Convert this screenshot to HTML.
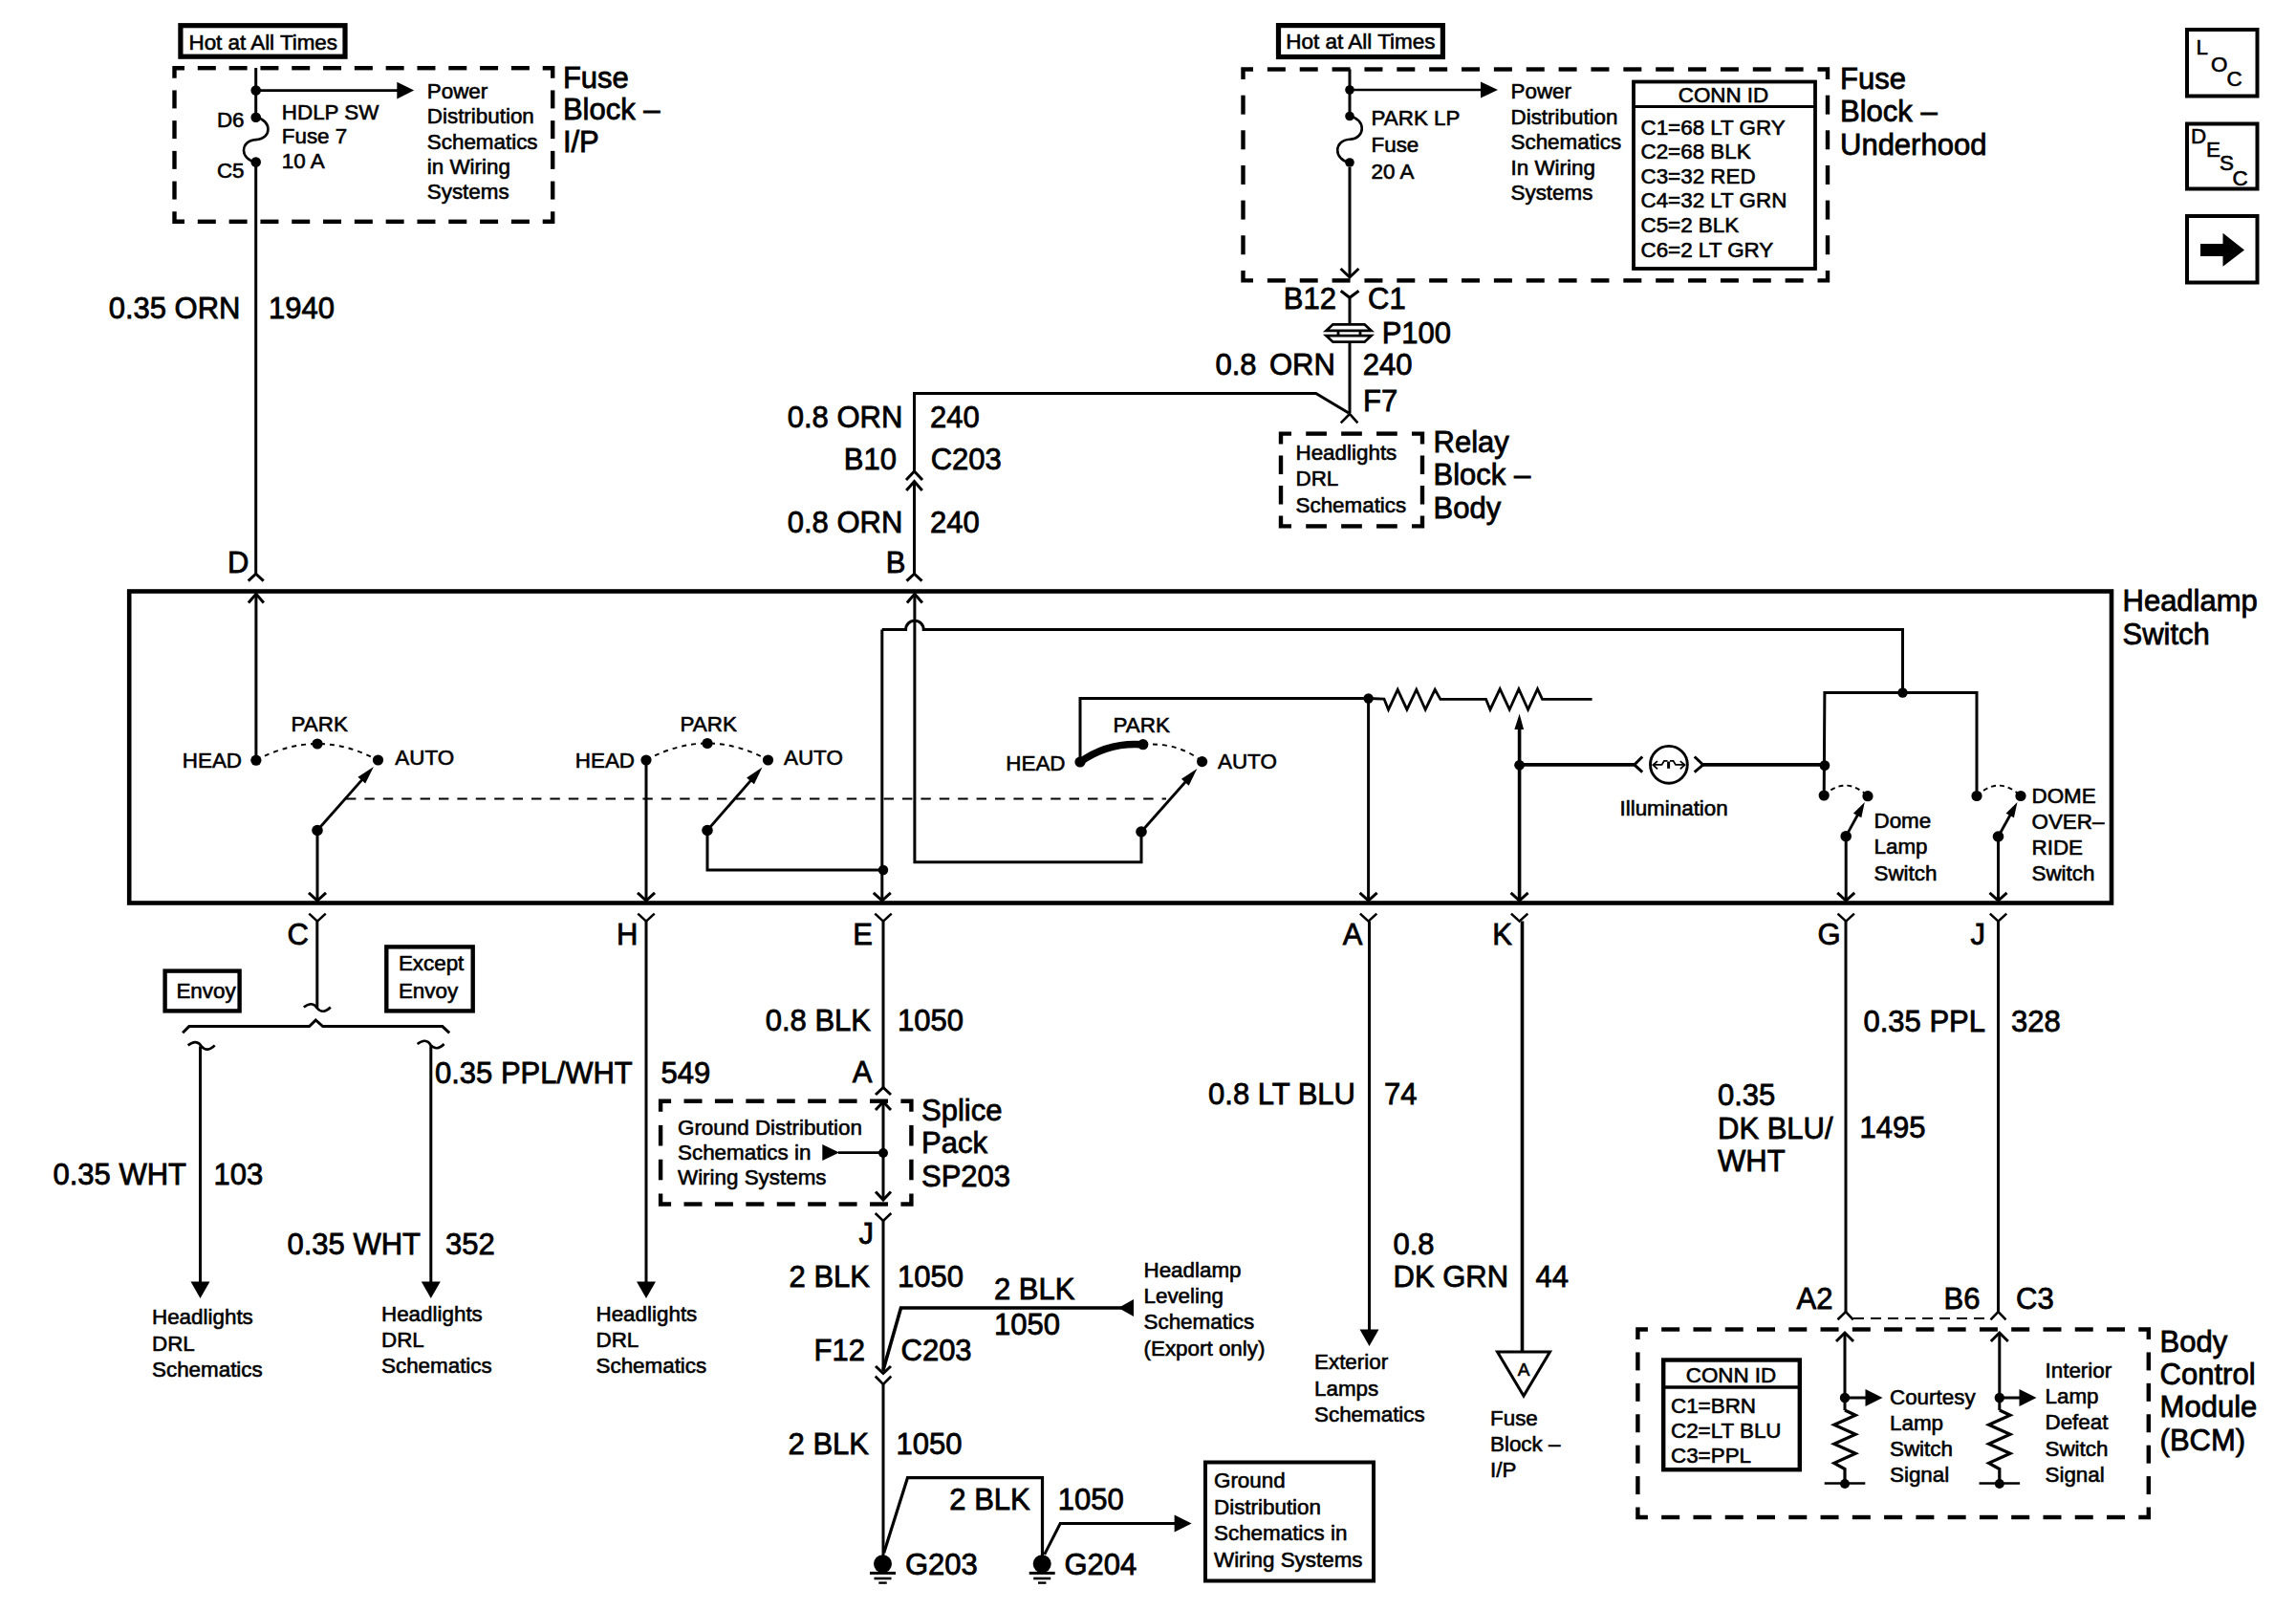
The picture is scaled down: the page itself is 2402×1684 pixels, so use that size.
<!DOCTYPE html>
<html><head><meta charset="utf-8"><style>
html,body{margin:0;padding:0;background:#fff;}
svg{display:block;}
text{font-family:"Liberation Sans",sans-serif;fill:#000;stroke:#000;}
</style></head><body>
<svg width="2402" height="1684" viewBox="0 0 2402 1684" stroke="#000" stroke-linecap="butt" stroke-linejoin="miter">
<rect x="0" y="0" width="2402" height="1684" fill="#fff" stroke="none"/>
<rect x="188.9" y="26.7" width="172.1" height="32.5" stroke-width="5.2" fill="none"/>
<text x="197.5" y="51.5" font-size="22.4" stroke-width="0.6" textLength="155.5" lengthAdjust="spacingAndGlyphs">Hot at All Times</text>
<line x1="206.81" y1="71.2" x2="225.81" y2="71.2" stroke-width="4.4"/>
<line x1="239.62" y1="71.2" x2="258.62" y2="71.2" stroke-width="4.4"/>
<line x1="272.43" y1="71.2" x2="291.43" y2="71.2" stroke-width="4.4"/>
<line x1="305.23" y1="71.2" x2="324.23" y2="71.2" stroke-width="4.4"/>
<line x1="338.04" y1="71.2" x2="357.04" y2="71.2" stroke-width="4.4"/>
<line x1="370.85" y1="71.2" x2="389.85" y2="71.2" stroke-width="4.4"/>
<line x1="403.66" y1="71.2" x2="422.66" y2="71.2" stroke-width="4.4"/>
<line x1="436.47" y1="71.2" x2="455.47" y2="71.2" stroke-width="4.4"/>
<line x1="469.28" y1="71.2" x2="488.28" y2="71.2" stroke-width="4.4"/>
<line x1="502.08" y1="71.2" x2="521.08" y2="71.2" stroke-width="4.4"/>
<line x1="534.89" y1="71.2" x2="553.89" y2="71.2" stroke-width="4.4"/>
<line x1="206.81" y1="231.8" x2="225.81" y2="231.8" stroke-width="4.4"/>
<line x1="239.62" y1="231.8" x2="258.62" y2="231.8" stroke-width="4.4"/>
<line x1="272.43" y1="231.8" x2="291.43" y2="231.8" stroke-width="4.4"/>
<line x1="305.23" y1="231.8" x2="324.23" y2="231.8" stroke-width="4.4"/>
<line x1="338.04" y1="231.8" x2="357.04" y2="231.8" stroke-width="4.4"/>
<line x1="370.85" y1="231.8" x2="389.85" y2="231.8" stroke-width="4.4"/>
<line x1="403.66" y1="231.8" x2="422.66" y2="231.8" stroke-width="4.4"/>
<line x1="436.47" y1="231.8" x2="455.47" y2="231.8" stroke-width="4.4"/>
<line x1="469.28" y1="231.8" x2="488.28" y2="231.8" stroke-width="4.4"/>
<line x1="502.08" y1="231.8" x2="521.08" y2="231.8" stroke-width="4.4"/>
<line x1="534.89" y1="231.8" x2="553.89" y2="231.8" stroke-width="4.4"/>
<line x1="578.2" y1="94.42" x2="578.2" y2="113.42" stroke-width="4.4"/>
<line x1="578.2" y1="126.14" x2="578.2" y2="145.14" stroke-width="4.4"/>
<line x1="578.2" y1="157.86" x2="578.2" y2="176.86" stroke-width="4.4"/>
<line x1="578.2" y1="189.58" x2="578.2" y2="208.58" stroke-width="4.4"/>
<line x1="182.5" y1="94.42" x2="182.5" y2="113.42" stroke-width="4.4"/>
<line x1="182.5" y1="126.14" x2="182.5" y2="145.14" stroke-width="4.4"/>
<line x1="182.5" y1="157.86" x2="182.5" y2="176.86" stroke-width="4.4"/>
<line x1="182.5" y1="189.58" x2="182.5" y2="208.58" stroke-width="4.4"/>
<polyline points="193,71.2 182.5,71.2 182.5,81.7" stroke-width="4.4" fill="none" stroke-linejoin="miter"/>
<polyline points="567.7,71.2 578.2,71.2 578.2,81.7" stroke-width="4.4" fill="none" stroke-linejoin="miter"/>
<polyline points="567.7,231.8 578.2,231.8 578.2,221.3" stroke-width="4.4" fill="none" stroke-linejoin="miter"/>
<polyline points="193,231.8 182.5,231.8 182.5,221.3" stroke-width="4.4" fill="none" stroke-linejoin="miter"/>
<line x1="267.7" y1="71" x2="267.7" y2="122.5" stroke-width="3"/>
<line x1="267.7" y1="169.6" x2="267.7" y2="600" stroke-width="3"/>
<circle cx="267.7" cy="94.6" r="5.3" fill="#000" stroke="none"/>
<line x1="267.7" y1="94.6" x2="418" y2="94.6" stroke-width="2.8"/>
<polygon points="433.1,94.6 415.3,85.7 415.3,103.5" fill="#000" stroke="none"/>
<circle cx="267.7" cy="122.7" r="5.3" fill="#000" stroke="none"/>
<circle cx="267.7" cy="169.6" r="5.3" fill="#000" stroke="none"/>
<path d="M267.7,122.7 C284.7,125.7 284.7,145.15 267.7,146.15 C250.7,147.15 250.7,166.6 267.7,169.6" stroke-width="2.6" fill="none"/>
<text x="255.5" y="132.5" font-size="22.4" stroke-width="0.6" text-anchor="end">D6</text>
<text x="255.5" y="185.5" font-size="22.4" stroke-width="0.6" text-anchor="end">C5</text>
<text x="294.8" y="124.9" font-size="22.4" stroke-width="0.6">HDLP SW</text>
<text x="294.8" y="150.3" font-size="22.4" stroke-width="0.6">Fuse 7</text>
<text x="294.8" y="175.7" font-size="22.4" stroke-width="0.6">10 A</text>
<text x="446.8" y="103" font-size="22.4" stroke-width="0.6">Power</text>
<text x="446.8" y="129.25" font-size="22.4" stroke-width="0.6">Distribution</text>
<text x="446.8" y="155.5" font-size="22.4" stroke-width="0.6">Schematics</text>
<text x="446.8" y="181.75" font-size="22.4" stroke-width="0.6">in Wiring</text>
<text x="446.8" y="208" font-size="22.4" stroke-width="0.6">Systems</text>
<text x="588.9" y="91.6" font-size="31" stroke-width="0.8">Fuse</text>
<text x="588.9" y="125.4" font-size="31" stroke-width="0.8">Block –</text>
<text x="588.9" y="159.2" font-size="31" stroke-width="0.8">I/P</text>
<text x="251.5" y="333.1" font-size="31" stroke-width="0.8" text-anchor="end">0.35 ORN</text>
<text x="281" y="333.1" font-size="31" stroke-width="0.8">1940</text>
<text x="260.5" y="598.8" font-size="31" stroke-width="0.8" text-anchor="end">D</text>
<polyline points="259.7,607.7 267.7,600.2 275.7,607.7" stroke-width="3" fill="none"/>
<rect x="1337.5" y="26.6" width="171.9" height="32.9" stroke-width="5.2" fill="none"/>
<text x="1345.3" y="51.3" font-size="22.4" stroke-width="0.6" textLength="156.3" lengthAdjust="spacingAndGlyphs">Hot at All Times</text>
<line x1="1325.86" y1="72.5" x2="1344.86" y2="72.5" stroke-width="4.4"/>
<line x1="1359.72" y1="72.5" x2="1378.72" y2="72.5" stroke-width="4.4"/>
<line x1="1393.58" y1="72.5" x2="1412.58" y2="72.5" stroke-width="4.4"/>
<line x1="1427.44" y1="72.5" x2="1446.44" y2="72.5" stroke-width="4.4"/>
<line x1="1461.31" y1="72.5" x2="1480.31" y2="72.5" stroke-width="4.4"/>
<line x1="1495.17" y1="72.5" x2="1514.17" y2="72.5" stroke-width="4.4"/>
<line x1="1529.03" y1="72.5" x2="1548.03" y2="72.5" stroke-width="4.4"/>
<line x1="1562.89" y1="72.5" x2="1581.89" y2="72.5" stroke-width="4.4"/>
<line x1="1596.75" y1="72.5" x2="1615.75" y2="72.5" stroke-width="4.4"/>
<line x1="1630.61" y1="72.5" x2="1649.61" y2="72.5" stroke-width="4.4"/>
<line x1="1664.47" y1="72.5" x2="1683.47" y2="72.5" stroke-width="4.4"/>
<line x1="1698.33" y1="72.5" x2="1717.33" y2="72.5" stroke-width="4.4"/>
<line x1="1732.19" y1="72.5" x2="1751.19" y2="72.5" stroke-width="4.4"/>
<line x1="1766.06" y1="72.5" x2="1785.06" y2="72.5" stroke-width="4.4"/>
<line x1="1799.92" y1="72.5" x2="1818.92" y2="72.5" stroke-width="4.4"/>
<line x1="1833.78" y1="72.5" x2="1852.78" y2="72.5" stroke-width="4.4"/>
<line x1="1867.64" y1="72.5" x2="1886.64" y2="72.5" stroke-width="4.4"/>
<line x1="1325.86" y1="293.4" x2="1344.86" y2="293.4" stroke-width="4.4"/>
<line x1="1359.72" y1="293.4" x2="1378.72" y2="293.4" stroke-width="4.4"/>
<line x1="1393.58" y1="293.4" x2="1412.58" y2="293.4" stroke-width="4.4"/>
<line x1="1427.44" y1="293.4" x2="1446.44" y2="293.4" stroke-width="4.4"/>
<line x1="1461.31" y1="293.4" x2="1480.31" y2="293.4" stroke-width="4.4"/>
<line x1="1495.17" y1="293.4" x2="1514.17" y2="293.4" stroke-width="4.4"/>
<line x1="1529.03" y1="293.4" x2="1548.03" y2="293.4" stroke-width="4.4"/>
<line x1="1562.89" y1="293.4" x2="1581.89" y2="293.4" stroke-width="4.4"/>
<line x1="1596.75" y1="293.4" x2="1615.75" y2="293.4" stroke-width="4.4"/>
<line x1="1630.61" y1="293.4" x2="1649.61" y2="293.4" stroke-width="4.4"/>
<line x1="1664.47" y1="293.4" x2="1683.47" y2="293.4" stroke-width="4.4"/>
<line x1="1698.33" y1="293.4" x2="1717.33" y2="293.4" stroke-width="4.4"/>
<line x1="1732.19" y1="293.4" x2="1751.19" y2="293.4" stroke-width="4.4"/>
<line x1="1766.06" y1="293.4" x2="1785.06" y2="293.4" stroke-width="4.4"/>
<line x1="1799.92" y1="293.4" x2="1818.92" y2="293.4" stroke-width="4.4"/>
<line x1="1833.78" y1="293.4" x2="1852.78" y2="293.4" stroke-width="4.4"/>
<line x1="1867.64" y1="293.4" x2="1886.64" y2="293.4" stroke-width="4.4"/>
<line x1="1912" y1="99.65" x2="1912" y2="119.65" stroke-width="4.4"/>
<line x1="1912" y1="136.3" x2="1912" y2="156.3" stroke-width="4.4"/>
<line x1="1912" y1="172.95" x2="1912" y2="192.95" stroke-width="4.4"/>
<line x1="1912" y1="209.6" x2="1912" y2="229.6" stroke-width="4.4"/>
<line x1="1912" y1="246.25" x2="1912" y2="266.25" stroke-width="4.4"/>
<line x1="1300.5" y1="99.65" x2="1300.5" y2="119.65" stroke-width="4.4"/>
<line x1="1300.5" y1="136.3" x2="1300.5" y2="156.3" stroke-width="4.4"/>
<line x1="1300.5" y1="172.95" x2="1300.5" y2="192.95" stroke-width="4.4"/>
<line x1="1300.5" y1="209.6" x2="1300.5" y2="229.6" stroke-width="4.4"/>
<line x1="1300.5" y1="246.25" x2="1300.5" y2="266.25" stroke-width="4.4"/>
<polyline points="1311,72.5 1300.5,72.5 1300.5,83" stroke-width="4.4" fill="none" stroke-linejoin="miter"/>
<polyline points="1901.5,72.5 1912,72.5 1912,83" stroke-width="4.4" fill="none" stroke-linejoin="miter"/>
<polyline points="1901.5,293.4 1912,293.4 1912,282.9" stroke-width="4.4" fill="none" stroke-linejoin="miter"/>
<polyline points="1311,293.4 1300.5,293.4 1300.5,282.9" stroke-width="4.4" fill="none" stroke-linejoin="miter"/>
<line x1="1412" y1="72.5" x2="1412" y2="290" stroke-width="3"/>
<polyline points="1402.6,281 1412,290 1421.4,281" stroke-width="3" fill="none"/>
<circle cx="1412" cy="94" r="4.8" fill="#000" stroke="none"/>
<line x1="1412" y1="94" x2="1552" y2="94" stroke-width="2.6"/>
<polygon points="1567,94 1549,85.5 1549,102.5" fill="#000" stroke="none"/>
<rect x="1407" y="117" width="9" height="58" fill="#fff" stroke="none"/>
<circle cx="1412" cy="121.5" r="4.8" fill="#000" stroke="none"/>
<circle cx="1412" cy="170" r="4.8" fill="#000" stroke="none"/>
<path d="M1412,121.5 C1429,124.5 1429,144.75 1412,145.75 C1395,146.75 1395,167 1412,170" stroke-width="2.6" fill="none"/>
<text x="1434.5" y="131" font-size="22.4" stroke-width="0.6">PARK LP</text>
<text x="1434.5" y="159" font-size="22.4" stroke-width="0.6">Fuse</text>
<text x="1434.5" y="187" font-size="22.4" stroke-width="0.6">20 A</text>
<text x="1580.5" y="103" font-size="22.4" stroke-width="0.6">Power</text>
<text x="1580.5" y="129.6" font-size="22.4" stroke-width="0.6">Distribution</text>
<text x="1580.5" y="156.2" font-size="22.4" stroke-width="0.6">Schematics</text>
<text x="1580.5" y="182.8" font-size="22.4" stroke-width="0.6">In Wiring</text>
<text x="1580.5" y="209.4" font-size="22.4" stroke-width="0.6">Systems</text>
<rect x="1709" y="85.5" width="190" height="195.5" stroke-width="3.8" fill="none"/>
<line x1="1709" y1="111.5" x2="1899" y2="111.5" stroke-width="3"/>
<text x="1803" y="107" font-size="22.4" stroke-width="0.6" text-anchor="middle">CONN ID</text>
<text x="1716.5" y="140.5" font-size="22.4" stroke-width="0.6">C1=68 LT GRY</text>
<text x="1716.5" y="166.1" font-size="22.4" stroke-width="0.6">C2=68 BLK</text>
<text x="1716.5" y="191.7" font-size="22.4" stroke-width="0.6">C3=32 RED</text>
<text x="1716.5" y="217.3" font-size="22.4" stroke-width="0.6">C4=32 LT GRN</text>
<text x="1716.5" y="242.9" font-size="22.4" stroke-width="0.6">C5=2 BLK</text>
<text x="1716.5" y="268.5" font-size="22.4" stroke-width="0.6">C6=2 LT GRY</text>
<text x="1925" y="93.1" font-size="31" stroke-width="0.8">Fuse</text>
<text x="1925" y="127.3" font-size="31" stroke-width="0.8">Block –</text>
<text x="1925" y="161.5" font-size="31" stroke-width="0.8">Underhood</text>
<rect x="2288" y="31" width="73.5" height="69.5" stroke-width="4" fill="none"/>
<text x="2297.5" y="56.5" font-size="22.4" stroke-width="0.6">L</text>
<text x="2313" y="74.5" font-size="22.4" stroke-width="0.6">O</text>
<text x="2329.5" y="89.5" font-size="22.4" stroke-width="0.6">C</text>
<rect x="2288" y="129.5" width="73.5" height="68" stroke-width="4" fill="none"/>
<text x="2292" y="149.5" font-size="22.4" stroke-width="0.6">D</text>
<text x="2308" y="163.5" font-size="22.4" stroke-width="0.6">E</text>
<text x="2322" y="177.5" font-size="22.4" stroke-width="0.6">S</text>
<text x="2335.5" y="193.5" font-size="22.4" stroke-width="0.6">C</text>
<rect x="2288" y="226" width="73.5" height="69.5" stroke-width="4" fill="none"/>
<polygon points="2302,255 2325.5,255 2325.5,243.75 2348,261.5 2325.5,278.75 2325.5,268 2302,268" fill="#000" stroke="none"/>
<polyline points="1402.7,304.2 1412,311.3 1421.5,304.2" stroke-width="3" fill="none"/>
<line x1="1412" y1="311.3" x2="1412" y2="339" stroke-width="3"/>
<text x="1398" y="322.8" font-size="31" stroke-width="0.8" text-anchor="end">B12</text>
<text x="1431" y="322.8" font-size="31" stroke-width="0.8">C1</text>
<polygon points="1394.5,339.3 1427.5,339.3 1434.5,345.8 1387.5,345.8" stroke-width="2.8" fill="none"/>
<polygon points="1387.5,351.2 1434.5,351.2 1427.5,357.7 1394.5,357.7" stroke-width="2.8" fill="none"/>
<line x1="1400" y1="345.8" x2="1400" y2="351.2" stroke-width="2.8"/>
<line x1="1423" y1="345.8" x2="1423" y2="351.2" stroke-width="2.8"/>
<text x="1445.7" y="358.8" font-size="31" stroke-width="0.8">P100</text>
<line x1="1412" y1="357.7" x2="1412" y2="432" stroke-width="3"/>
<text x="1314.5" y="391.8" font-size="31" stroke-width="0.8" text-anchor="end">0.8</text>
<text x="1396.8" y="391.8" font-size="31" stroke-width="0.8" text-anchor="end">ORN</text>
<text x="1425.7" y="391.8" font-size="31" stroke-width="0.8">240</text>
<text x="1426" y="430.1" font-size="31" stroke-width="0.8">F7</text>
<polyline points="956.5,493 956.5,411.5 1376.7,411.5 1411,432" stroke-width="3" fill="none"/>
<polyline points="1402.7,442.3 1412,433 1420.4,442.3" stroke-width="2.6" fill="none"/>
<line x1="1366.22" y1="453.6" x2="1387.92" y2="453.6" stroke-width="4.4"/>
<line x1="1403.15" y1="453.6" x2="1424.85" y2="453.6" stroke-width="4.4"/>
<line x1="1440.08" y1="453.6" x2="1461.78" y2="453.6" stroke-width="4.4"/>
<line x1="1366.22" y1="550.4" x2="1387.92" y2="550.4" stroke-width="4.4"/>
<line x1="1403.15" y1="550.4" x2="1424.85" y2="550.4" stroke-width="4.4"/>
<line x1="1440.08" y1="550.4" x2="1461.78" y2="550.4" stroke-width="4.4"/>
<line x1="1488" y1="476.47" x2="1488" y2="496.07" stroke-width="4.4"/>
<line x1="1488" y1="507.93" x2="1488" y2="527.53" stroke-width="4.4"/>
<line x1="1340" y1="476.47" x2="1340" y2="496.07" stroke-width="4.4"/>
<line x1="1340" y1="507.93" x2="1340" y2="527.53" stroke-width="4.4"/>
<polyline points="1351,453.6 1340,453.6 1340,464.6" stroke-width="4.4" fill="none" stroke-linejoin="miter"/>
<polyline points="1477,453.6 1488,453.6 1488,464.6" stroke-width="4.4" fill="none" stroke-linejoin="miter"/>
<polyline points="1477,550.4 1488,550.4 1488,539.4" stroke-width="4.4" fill="none" stroke-linejoin="miter"/>
<polyline points="1351,550.4 1340,550.4 1340,539.4" stroke-width="4.4" fill="none" stroke-linejoin="miter"/>
<text x="1355.5" y="480.5" font-size="22.4" stroke-width="0.6">Headlights</text>
<text x="1355.5" y="508" font-size="22.4" stroke-width="0.6">DRL</text>
<text x="1355.5" y="535.5" font-size="22.4" stroke-width="0.6">Schematics</text>
<text x="1499.5" y="473.1" font-size="31" stroke-width="0.8">Relay</text>
<text x="1499.5" y="507.3" font-size="31" stroke-width="0.8">Block –</text>
<text x="1499.5" y="541.5" font-size="31" stroke-width="0.8">Body</text>
<polyline points="948,502.1 956.5,492.9 965,502.1" stroke-width="3" fill="none"/>
<polyline points="948.2,513.1 956.5,503.6 964.8,513.1" stroke-width="3" fill="none"/>
<line x1="956.5" y1="503.6" x2="956.5" y2="600.2" stroke-width="3"/>
<polyline points="948.5,607.7 956.5,600.2 964.5,607.7" stroke-width="3" fill="none"/>
<text x="944.3" y="446.8" font-size="31" stroke-width="0.8" text-anchor="end">0.8 ORN</text>
<text x="973.1" y="446.8" font-size="31" stroke-width="0.8">240</text>
<text x="938" y="491.4" font-size="31" stroke-width="0.8" text-anchor="end">B10</text>
<text x="973.7" y="491.4" font-size="31" stroke-width="0.8">C203</text>
<text x="944.3" y="557.2" font-size="31" stroke-width="0.8" text-anchor="end">0.8 ORN</text>
<text x="973.1" y="557.2" font-size="31" stroke-width="0.8">240</text>
<text x="947.5" y="599.1" font-size="31" stroke-width="0.8" text-anchor="end">B</text>
<rect x="135.2" y="618.5" width="2073.8" height="326" stroke-width="4.6" fill="none"/>
<text x="2220.5" y="639.1" font-size="31" stroke-width="0.8">Headlamp</text>
<text x="2220.5" y="674.1" font-size="31" stroke-width="0.8">Switch</text>
<line x1="267.9" y1="621.2" x2="267.9" y2="795" stroke-width="3"/>
<polyline points="259.9,630.5 267.9,621.2 275.9,630.5" stroke-width="3" fill="none"/>
<path d="M267.9,795.2 Q332.35,760.8 395.4,795.2" stroke-width="1.9" fill="none" stroke-dasharray="5 5"/>
<circle cx="267.9" cy="795.2" r="5.6" fill="#000" stroke="none"/>
<circle cx="332" cy="778" r="5.6" fill="#000" stroke="none"/>
<circle cx="395.5" cy="795" r="5.6" fill="#000" stroke="none"/>
<text x="253" y="802.8" font-size="22.4" stroke-width="0.6" text-anchor="end">HEAD</text>
<text x="304.5" y="765.1" font-size="22.4" stroke-width="0.6">PARK</text>
<text x="413.3" y="799.5" font-size="22.4" stroke-width="0.6">AUTO</text>
<circle cx="332" cy="868.5" r="5.8" fill="#000" stroke="none"/>
<line x1="332" y1="868.5" x2="379.64" y2="814.63" stroke-width="2.8"/>
<polygon points="390.9,801.9 382.21,819.58 374.42,812.69" fill="#000" stroke="none"/>
<line x1="332" y1="868.5" x2="332" y2="942" stroke-width="3"/>
<polyline points="323,933.8 332,942 341,933.8" stroke-width="3" fill="none"/>
<line x1="362" y1="835.5" x2="1220" y2="835.5" stroke-width="1.9" stroke-dasharray="10.4 9"/>
<line x1="676" y1="795" x2="676" y2="942" stroke-width="3"/>
<polyline points="667,933.8 676,942 685,933.8" stroke-width="3" fill="none"/>
<path d="M676,795 Q740.25,760 803.5,795" stroke-width="1.9" fill="none" stroke-dasharray="5 5"/>
<circle cx="676" cy="795" r="5.6" fill="#000" stroke="none"/>
<circle cx="740" cy="777.5" r="5.6" fill="#000" stroke="none"/>
<circle cx="803.5" cy="795" r="5.6" fill="#000" stroke="none"/>
<text x="664" y="802.8" font-size="22.4" stroke-width="0.6" text-anchor="end">HEAD</text>
<text x="711.5" y="765.1" font-size="22.4" stroke-width="0.6">PARK</text>
<text x="820" y="799.5" font-size="22.4" stroke-width="0.6">AUTO</text>
<circle cx="740" cy="868.5" r="5.8" fill="#000" stroke="none"/>
<line x1="740" y1="868.5" x2="786.33" y2="815.32" stroke-width="2.8"/>
<polygon points="797.5,802.5 788.94,820.24 781.1,813.41" fill="#000" stroke="none"/>
<polyline points="740,868.5 740,910 924,910" stroke-width="3" fill="none"/>
<circle cx="924" cy="910" r="5.2" fill="#000" stroke="none"/>
<line x1="922.8" y1="658.5" x2="922.8" y2="942" stroke-width="3"/>
<polyline points="913.8,933.8 922.8,942 931.8,933.8" stroke-width="3" fill="none"/>
<path d="M922.8,658.5 L947.6,658.5 A9.3,9.3 0 0 1 966.2,658.5 L1990.5,658.5 L1990.5,724.5" stroke-width="3" fill="none"/>
<circle cx="1990.5" cy="724.5" r="5.2" fill="#000" stroke="none"/>
<polyline points="948.9,630.5 956.9,621.2 964.9,630.5" stroke-width="3" fill="none"/>
<polyline points="956.9,621.2 956.9,901.7 1194,901.7 1194,870" stroke-width="3" fill="none"/>
<circle cx="1194" cy="870" r="5.8" fill="#000" stroke="none"/>
<line x1="1194" y1="870" x2="1241.13" y2="816.73" stroke-width="2.8"/>
<polygon points="1252.4,804 1243.7,821.68 1235.91,814.78" fill="#000" stroke="none"/>
<path d="M1130,797 Q1159,776 1195.8,778.7" stroke-width="7.5" fill="none" stroke-linecap="round"/>
<path d="M1195.8,778.7 Q1233.3,776.35 1257.6,796.6" stroke-width="1.9" fill="none" stroke-dasharray="5 5"/>
<circle cx="1130" cy="797" r="5.6" fill="#000" stroke="none"/>
<circle cx="1195.8" cy="778.7" r="5.6" fill="#000" stroke="none"/>
<circle cx="1257.6" cy="796.6" r="5.6" fill="#000" stroke="none"/>
<text x="1114.5" y="805.8" font-size="22.4" stroke-width="0.6" text-anchor="end">HEAD</text>
<text x="1164.5" y="766.3" font-size="22.4" stroke-width="0.6">PARK</text>
<text x="1274" y="803.5" font-size="22.4" stroke-width="0.6">AUTO</text>
<polyline points="1130,797 1130,730.5 1431.6,730.5" stroke-width="3" fill="none"/>
<circle cx="1431.6" cy="730.5" r="5.2" fill="#000" stroke="none"/>
<polyline points="1431.6,730.5 1448,731 1452.5,742.2 1462.2,721.3 1471.9,742.2 1481.8,721.3 1491.2,742.2 1501.2,721.3 1506.9,731.4 1554.6,731.4 1559,742.2 1569.2,720.6 1579.2,742.2 1588.9,720.6 1598.6,742.2 1608.5,720.6 1613.5,731.4 1665.6,731.4" stroke-width="2.8" fill="none"/>
<line x1="1431.6" y1="730.5" x2="1431.6" y2="942" stroke-width="3"/>
<polyline points="1422.6,933.8 1431.6,942 1440.6,933.8" stroke-width="3" fill="none"/>
<polygon points="1589.6,746.6 1584.4,763 1594.1,763" fill="#000" stroke="none"/>
<line x1="1589.6" y1="762" x2="1589.6" y2="942" stroke-width="3.6"/>
<polyline points="1580.6,933.8 1589.6,942 1598.6,933.8" stroke-width="3" fill="none"/>
<circle cx="1589.6" cy="800.3" r="5.4" fill="#000" stroke="none"/>
<line x1="1589.6" y1="799.9" x2="1709.8" y2="799.9" stroke-width="3.6"/>
<polyline points="1718.2,791.5 1709.8,799.9 1718.2,807.6" stroke-width="3" fill="none"/>
<circle cx="1745.9" cy="799.8" r="19.4" stroke-width="2.9" fill="none"/>
<polyline points="1729.5,799.9 1738.5,799.9 1741,795.8 1744.5,795.8" stroke-width="1.8" fill="none"/>
<polyline points="1747,795.8 1750.5,795.8 1753,799.9 1762.3,799.9" stroke-width="1.8" fill="none"/>
<polyline points="1734,796.1 1729.3,800 1734,804.4" stroke-width="1.8" fill="none"/>
<polyline points="1757.8,796.1 1762.5,800 1757.8,804.4" stroke-width="1.8" fill="none"/>
<line x1="1745.6" y1="796.5" x2="1745.6" y2="803.8" stroke-width="3"/>
<polyline points="1772.7,791.5 1781.7,799.9 1772.7,807.6" stroke-width="3" fill="none"/>
<line x1="1781.7" y1="799.9" x2="1908.9" y2="799.9" stroke-width="3.6"/>
<circle cx="1908.9" cy="800.6" r="5.4" fill="#000" stroke="none"/>
<text x="1694.5" y="852.5" font-size="22.4" stroke-width="0.6">Illumination</text>
<polyline points="1908.2,832 1908.9,724.5 2068,724.5 2068,832.5" stroke-width="3" fill="none"/>
<circle cx="1908.2" cy="832" r="5.6" fill="#000" stroke="none"/>
<circle cx="1954" cy="832.7" r="5.6" fill="#000" stroke="none"/>
<path d="M1908.2,832 Q1930.9,810.85 1954,832.7" stroke-width="1.9" fill="none" stroke-dasharray="5 4"/>
<circle cx="1931.2" cy="874.7" r="5.8" fill="#000" stroke="none"/>
<line x1="1931.2" y1="874.7" x2="1944.06" y2="851.27" stroke-width="2.8"/>
<polygon points="1950.8,839 1947.31,855.34 1938.89,850.72" fill="#000" stroke="none"/>
<line x1="1931.2" y1="874.7" x2="1931.2" y2="942" stroke-width="3"/>
<polyline points="1922.2,933.8 1931.2,942 1940.2,933.8" stroke-width="3" fill="none"/>
<text x="1960.5" y="865.5" font-size="22.4" stroke-width="0.6">Dome</text>
<text x="1960.5" y="893" font-size="22.4" stroke-width="0.6">Lamp</text>
<text x="1960.5" y="920.5" font-size="22.4" stroke-width="0.6">Switch</text>
<circle cx="2068" cy="832.5" r="5.6" fill="#000" stroke="none"/>
<circle cx="2114" cy="832.5" r="5.6" fill="#000" stroke="none"/>
<path d="M2068,832.5 Q2091,810.7 2114,832.5" stroke-width="1.9" fill="none" stroke-dasharray="5 4"/>
<circle cx="2090.5" cy="875" r="5.8" fill="#000" stroke="none"/>
<line x1="2090.5" y1="875" x2="2103.7" y2="851.24" stroke-width="2.8"/>
<polygon points="2110.5,839 2106.93,855.32 2098.53,850.66" fill="#000" stroke="none"/>
<line x1="2090.5" y1="875" x2="2090.5" y2="942" stroke-width="3"/>
<polyline points="2081.5,933.8 2090.5,942 2099.5,933.8" stroke-width="3" fill="none"/>
<text x="2125.5" y="839.5" font-size="22.4" stroke-width="0.6">DOME</text>
<text x="2125.5" y="866.7" font-size="22.4" stroke-width="0.6">OVER–</text>
<text x="2125.5" y="893.9" font-size="22.4" stroke-width="0.6">RIDE</text>
<text x="2125.5" y="921.1" font-size="22.4" stroke-width="0.6">Switch</text>
<polyline points="323.3,955.6 332,963.6 340.7,955.6" stroke-width="2.6" fill="none"/>
<text x="322.9" y="987.6" font-size="31" stroke-width="0.8" text-anchor="end">C</text>
<polyline points="667.3,955.6 676,963.6 684.7,955.6" stroke-width="2.6" fill="none"/>
<text x="667.5" y="987.6" font-size="31" stroke-width="0.8" text-anchor="end">H</text>
<polyline points="915.3,955.6 924,963.6 932.7,955.6" stroke-width="2.6" fill="none"/>
<text x="913" y="987.6" font-size="31" stroke-width="0.8" text-anchor="end">E</text>
<polyline points="1422.9,955.6 1431.6,963.6 1440.3,955.6" stroke-width="2.6" fill="none"/>
<text x="1425.5" y="987.6" font-size="31" stroke-width="0.8" text-anchor="end">A</text>
<polyline points="1580.9,955.6 1589.6,963.6 1598.3,955.6" stroke-width="2.6" fill="none"/>
<text x="1582" y="987.6" font-size="31" stroke-width="0.8" text-anchor="end">K</text>
<polyline points="1922.5,955.6 1931.2,963.6 1939.9,955.6" stroke-width="2.6" fill="none"/>
<text x="1925.5" y="987.6" font-size="31" stroke-width="0.8" text-anchor="end">G</text>
<polyline points="2081.8,955.6 2090.5,963.6 2099.2,955.6" stroke-width="2.6" fill="none"/>
<text x="2077" y="987.6" font-size="31" stroke-width="0.8" text-anchor="end">J</text>
<line x1="331.8" y1="963.6" x2="331.8" y2="1054" stroke-width="3"/>
<path d="M317.8,1053.5 Q326.8,1046.5 331.8,1054.5 Q337.8,1061.5 345.8,1053.5" stroke-width="2.6" fill="none"/>
<path d="M191.1,1080.3 L197.8,1073.6 L323.6,1073.6 L330.3,1067 L337.7,1073.6 L462.8,1073.6 L470.2,1080.3" stroke-width="3" fill="none"/>
<rect x="172.6" y="1015.6" width="78" height="41.8" stroke-width="4.4" fill="none"/>
<text x="184.4" y="1043.5" font-size="22.4" stroke-width="0.6">Envoy</text>
<rect x="404.3" y="990.4" width="90.4" height="67" stroke-width="4.4" fill="none"/>
<text x="416.9" y="1015.4" font-size="22.4" stroke-width="0.6">Except</text>
<text x="416.9" y="1043.5" font-size="22.4" stroke-width="0.6">Envoy</text>
<path d="M196.7,1093.4 Q205.7,1086.4 210.7,1094.4 Q216.7,1101.4 224.7,1093.4" stroke-width="2.6" fill="none"/>
<line x1="209.5" y1="1094.4" x2="209.5" y2="1342" stroke-width="3"/>
<polygon points="209.5,1358 199.5,1340.5 219.5,1340.5" fill="#000" stroke="none"/>
<path d="M436.6,1092 Q445.6,1085 450.6,1093 Q456.6,1100 464.6,1092" stroke-width="2.6" fill="none"/>
<line x1="450.8" y1="1093" x2="450.8" y2="1342" stroke-width="3"/>
<polygon points="450.8,1358 440.8,1340.5 460.8,1340.5" fill="#000" stroke="none"/>
<text x="195" y="1239.1" font-size="31" stroke-width="0.8" text-anchor="end">0.35 WHT</text>
<text x="223.5" y="1239.1" font-size="31" stroke-width="0.8">103</text>
<text x="455" y="1133.1" font-size="31" stroke-width="0.8">0.35 PPL/WHT</text>
<text x="691.5" y="1133.1" font-size="31" stroke-width="0.8">549</text>
<text x="440" y="1311.6" font-size="31" stroke-width="0.8" text-anchor="end">0.35 WHT</text>
<text x="466" y="1311.6" font-size="31" stroke-width="0.8">352</text>
<text x="159" y="1385" font-size="22.4" stroke-width="0.6">Headlights</text>
<text x="159" y="1412.5" font-size="22.4" stroke-width="0.6">DRL</text>
<text x="159" y="1440" font-size="22.4" stroke-width="0.6">Schematics</text>
<text x="399" y="1381.5" font-size="22.4" stroke-width="0.6">Headlights</text>
<text x="399" y="1408.8" font-size="22.4" stroke-width="0.6">DRL</text>
<text x="399" y="1436.1" font-size="22.4" stroke-width="0.6">Schematics</text>
<line x1="676" y1="963.6" x2="676" y2="1342" stroke-width="3"/>
<polygon points="676,1358 666,1340.5 686,1340.5" fill="#000" stroke="none"/>
<text x="623.5" y="1381.5" font-size="22.4" stroke-width="0.6">Headlights</text>
<text x="623.5" y="1408.8" font-size="22.4" stroke-width="0.6">DRL</text>
<text x="623.5" y="1436.1" font-size="22.4" stroke-width="0.6">Schematics</text>
<line x1="924" y1="963.6" x2="924" y2="1137.5" stroke-width="3"/>
<text x="911" y="1078.1" font-size="31" stroke-width="0.8" text-anchor="end">0.8 BLK</text>
<text x="939" y="1078.1" font-size="31" stroke-width="0.8">1050</text>
<text x="912.5" y="1131.6" font-size="31" stroke-width="0.8" text-anchor="end">A</text>
<polyline points="916,1145 924,1137.5 932,1145" stroke-width="3" fill="none"/>
<line x1="715.51" y1="1151.7" x2="734.51" y2="1151.7" stroke-width="4.4"/>
<line x1="747.92" y1="1151.7" x2="766.92" y2="1151.7" stroke-width="4.4"/>
<line x1="780.34" y1="1151.7" x2="799.34" y2="1151.7" stroke-width="4.4"/>
<line x1="812.75" y1="1151.7" x2="831.75" y2="1151.7" stroke-width="4.4"/>
<line x1="845.16" y1="1151.7" x2="864.16" y2="1151.7" stroke-width="4.4"/>
<line x1="877.58" y1="1151.7" x2="896.58" y2="1151.7" stroke-width="4.4"/>
<line x1="909.99" y1="1151.7" x2="928.99" y2="1151.7" stroke-width="4.4"/>
<line x1="715.51" y1="1259.5" x2="734.51" y2="1259.5" stroke-width="4.4"/>
<line x1="747.92" y1="1259.5" x2="766.92" y2="1259.5" stroke-width="4.4"/>
<line x1="780.34" y1="1259.5" x2="799.34" y2="1259.5" stroke-width="4.4"/>
<line x1="812.75" y1="1259.5" x2="831.75" y2="1259.5" stroke-width="4.4"/>
<line x1="845.16" y1="1259.5" x2="864.16" y2="1259.5" stroke-width="4.4"/>
<line x1="877.58" y1="1259.5" x2="896.58" y2="1259.5" stroke-width="4.4"/>
<line x1="909.99" y1="1259.5" x2="928.99" y2="1259.5" stroke-width="4.4"/>
<line x1="953.4" y1="1176.9" x2="953.4" y2="1198.5" stroke-width="4.4"/>
<line x1="953.4" y1="1212.7" x2="953.4" y2="1234.3" stroke-width="4.4"/>
<line x1="691.1" y1="1176.9" x2="691.1" y2="1198.5" stroke-width="4.4"/>
<line x1="691.1" y1="1212.7" x2="691.1" y2="1234.3" stroke-width="4.4"/>
<polyline points="702.1,1151.7 691.1,1151.7 691.1,1162.7" stroke-width="4.4" fill="none" stroke-linejoin="miter"/>
<polyline points="942.4,1151.7 953.4,1151.7 953.4,1162.7" stroke-width="4.4" fill="none" stroke-linejoin="miter"/>
<polyline points="942.4,1259.5 953.4,1259.5 953.4,1248.5" stroke-width="4.4" fill="none" stroke-linejoin="miter"/>
<polyline points="702.1,1259.5 691.1,1259.5 691.1,1248.5" stroke-width="4.4" fill="none" stroke-linejoin="miter"/>
<polyline points="916,1161 924,1152.5 932,1161" stroke-width="3" fill="none"/>
<line x1="924" y1="1152.5" x2="924" y2="1255" stroke-width="3"/>
<polyline points="916,1246.5 924,1255 932,1246.5" stroke-width="3" fill="none"/>
<circle cx="924" cy="1206" r="5" fill="#000" stroke="none"/>
<line x1="877" y1="1205.6" x2="924" y2="1205.6" stroke-width="2.8"/>
<polygon points="878,1205.6 860.3,1197.1 860.3,1214.1" fill="#000" stroke="none"/>
<text x="709" y="1187" font-size="22.4" stroke-width="0.6">Ground Distribution</text>
<text x="709" y="1213.2" font-size="22.4" stroke-width="0.6">Schematics in</text>
<text x="709" y="1239.4" font-size="22.4" stroke-width="0.6">Wiring Systems</text>
<text x="964" y="1171.6" font-size="31" stroke-width="0.8">Splice</text>
<text x="964" y="1206.1" font-size="31" stroke-width="0.8">Pack</text>
<text x="964" y="1240.6" font-size="31" stroke-width="0.8">SP203</text>
<polyline points="915.7,1269 924,1277 932.3,1269" stroke-width="2.6" fill="none"/>
<text x="914" y="1301.1" font-size="31" stroke-width="0.8" text-anchor="end">J</text>
<line x1="924" y1="1277" x2="924" y2="1434" stroke-width="3"/>
<text x="910" y="1346.1" font-size="31" stroke-width="0.8" text-anchor="end">2 BLK</text>
<text x="939" y="1346.1" font-size="31" stroke-width="0.8">1050</text>
<text x="1040" y="1358.6" font-size="31" stroke-width="0.8">2 BLK</text>
<text x="1040" y="1396.1" font-size="31" stroke-width="0.8">1050</text>
<polyline points="924,1433 942.5,1368 1186,1368" stroke-width="3.6" fill="none"/>
<polygon points="1170,1368 1186,1359 1186,1377" fill="#000" stroke="none"/>
<rect x="1186" y="1355" width="8" height="26" fill="#fff" stroke="none"/>
<polyline points="916,1429 924,1436.5 932,1429" stroke-width="3" fill="none"/>
<polyline points="915.7,1439.5 924,1448 932.3,1439.5" stroke-width="2.6" fill="none"/>
<text x="905" y="1423.1" font-size="31" stroke-width="0.8" text-anchor="end">F12</text>
<text x="942.5" y="1423.1" font-size="31" stroke-width="0.8">C203</text>
<text x="1196.5" y="1336" font-size="22.4" stroke-width="0.6">Headlamp</text>
<text x="1196.5" y="1363.2" font-size="22.4" stroke-width="0.6">Leveling</text>
<text x="1196.5" y="1390.4" font-size="22.4" stroke-width="0.6">Schematics</text>
<text x="1196.5" y="1417.6" font-size="22.4" stroke-width="0.6">(Export only)</text>
<line x1="924" y1="1448" x2="924" y2="1636" stroke-width="3"/>
<text x="909" y="1520.6" font-size="31" stroke-width="0.8" text-anchor="end">2 BLK</text>
<text x="937.5" y="1520.6" font-size="31" stroke-width="0.8">1050</text>
<polyline points="924.7,1624.2 949.5,1545.6 1090.5,1545.6 1090.5,1636" stroke-width="3.2" fill="none"/>
<circle cx="923.5" cy="1635.8" r="9.5" fill="#000" stroke="none"/>
<line x1="910" y1="1645.4" x2="937" y2="1645.4" stroke-width="3"/>
<line x1="914.5" y1="1651" x2="932.5" y2="1651" stroke-width="2.6"/>
<line x1="919.3" y1="1655.6" x2="927.7" y2="1655.6" stroke-width="2.4"/>
<circle cx="1090.2" cy="1635.8" r="9.5" fill="#000" stroke="none"/>
<line x1="1076.7" y1="1645.4" x2="1103.7" y2="1645.4" stroke-width="3"/>
<line x1="1081.2" y1="1651" x2="1099.2" y2="1651" stroke-width="2.6"/>
<line x1="1086" y1="1655.6" x2="1094.4" y2="1655.6" stroke-width="2.4"/>
<polyline points="1092.7,1625.9 1109.2,1593.6 1230,1593.6" stroke-width="3" fill="none"/>
<polygon points="1246.6,1593.6 1228.6,1584.6 1228.6,1602.6" fill="#000" stroke="none"/>
<text x="1077.8" y="1578.6" font-size="31" stroke-width="0.8" text-anchor="end">2 BLK</text>
<text x="1106.7" y="1578.6" font-size="31" stroke-width="0.8">1050</text>
<text x="947" y="1646.5" font-size="31" stroke-width="0.8">G203</text>
<text x="1113.4" y="1646.5" font-size="31" stroke-width="0.8">G204</text>
<rect x="1261" y="1529.5" width="176" height="124" stroke-width="4" fill="none"/>
<text x="1270" y="1556" font-size="22.4" stroke-width="0.6">Ground</text>
<text x="1270" y="1583.5" font-size="22.4" stroke-width="0.6">Distribution</text>
<text x="1270" y="1611" font-size="22.4" stroke-width="0.6">Schematics in</text>
<text x="1270" y="1638.5" font-size="22.4" stroke-width="0.6">Wiring Systems</text>
<line x1="1432.5" y1="963.6" x2="1432.5" y2="1392" stroke-width="3"/>
<polygon points="1432.5,1408 1422.5,1390.5 1442.5,1390.5" fill="#000" stroke="none"/>
<text x="1418" y="1155.1" font-size="31" stroke-width="0.8" text-anchor="end">0.8 LT BLU</text>
<text x="1448" y="1155.1" font-size="31" stroke-width="0.8">74</text>
<text x="1375" y="1432" font-size="22.4" stroke-width="0.6">Exterior</text>
<text x="1375" y="1459.5" font-size="22.4" stroke-width="0.6">Lamps</text>
<text x="1375" y="1487" font-size="22.4" stroke-width="0.6">Schematics</text>
<line x1="1592.5" y1="963.6" x2="1592.5" y2="1414" stroke-width="3.6"/>
<polygon points="1566.5,1414 1621.5,1414 1594,1460" stroke-width="3" fill="none"/>
<text x="1594" y="1438.5" font-size="19" stroke-width="0.6" text-anchor="middle">A</text>
<text x="1457.5" y="1312.1" font-size="31" stroke-width="0.8">0.8</text>
<text x="1457.5" y="1346.1" font-size="31" stroke-width="0.8">DK GRN</text>
<text x="1606.5" y="1345.6" font-size="31" stroke-width="0.8">44</text>
<text x="1559" y="1491" font-size="22.4" stroke-width="0.6">Fuse</text>
<text x="1559" y="1517.8" font-size="22.4" stroke-width="0.6">Block –</text>
<text x="1559" y="1544.6" font-size="22.4" stroke-width="0.6">I/P</text>
<line x1="1931" y1="963.6" x2="1931" y2="1372" stroke-width="3"/>
<line x1="2090.5" y1="963.6" x2="2090.5" y2="1372" stroke-width="3"/>
<text x="2077" y="1079.1" font-size="31" stroke-width="0.8" text-anchor="end">0.35 PPL</text>
<text x="2104" y="1079.1" font-size="31" stroke-width="0.8">328</text>
<text x="1797" y="1156.1" font-size="31" stroke-width="0.8">0.35</text>
<text x="1797" y="1190.5" font-size="31" stroke-width="0.8">DK BLU/</text>
<text x="1797" y="1224.9" font-size="31" stroke-width="0.8">WHT</text>
<text x="1945.5" y="1190.1" font-size="31" stroke-width="0.8">1495</text>
<text x="1917.5" y="1368.6" font-size="31" stroke-width="0.8" text-anchor="end">A2</text>
<text x="2071.5" y="1368.6" font-size="31" stroke-width="0.8" text-anchor="end">B6</text>
<text x="2109" y="1368.6" font-size="31" stroke-width="0.8">C3</text>
<polyline points="1922.5,1380.3 1931,1372 1938.8,1380.3" stroke-width="2.6" fill="none"/>
<polyline points="2082.5,1380.3 2090.5,1372 2098.5,1380.3" stroke-width="2.6" fill="none"/>
<line x1="1939" y1="1379" x2="2082.5" y2="1379" stroke-width="1.9" stroke-dasharray="11 7"/>
<line x1="1738.18" y1="1390.5" x2="1757.18" y2="1390.5" stroke-width="4.4"/>
<line x1="1771.45" y1="1390.5" x2="1790.45" y2="1390.5" stroke-width="4.4"/>
<line x1="1804.73" y1="1390.5" x2="1823.73" y2="1390.5" stroke-width="4.4"/>
<line x1="1838" y1="1390.5" x2="1857" y2="1390.5" stroke-width="4.4"/>
<line x1="1871.28" y1="1390.5" x2="1890.28" y2="1390.5" stroke-width="4.4"/>
<line x1="1904.55" y1="1390.5" x2="1923.55" y2="1390.5" stroke-width="4.4"/>
<line x1="1937.83" y1="1390.5" x2="1956.83" y2="1390.5" stroke-width="4.4"/>
<line x1="1971.1" y1="1390.5" x2="1990.1" y2="1390.5" stroke-width="4.4"/>
<line x1="2004.38" y1="1390.5" x2="2023.38" y2="1390.5" stroke-width="4.4"/>
<line x1="2037.65" y1="1390.5" x2="2056.65" y2="1390.5" stroke-width="4.4"/>
<line x1="2070.93" y1="1390.5" x2="2089.93" y2="1390.5" stroke-width="4.4"/>
<line x1="2104.2" y1="1390.5" x2="2123.2" y2="1390.5" stroke-width="4.4"/>
<line x1="2137.48" y1="1390.5" x2="2156.48" y2="1390.5" stroke-width="4.4"/>
<line x1="2170.75" y1="1390.5" x2="2189.75" y2="1390.5" stroke-width="4.4"/>
<line x1="2204.03" y1="1390.5" x2="2223.03" y2="1390.5" stroke-width="4.4"/>
<line x1="1738.18" y1="1587" x2="1757.18" y2="1587" stroke-width="4.4"/>
<line x1="1771.45" y1="1587" x2="1790.45" y2="1587" stroke-width="4.4"/>
<line x1="1804.73" y1="1587" x2="1823.73" y2="1587" stroke-width="4.4"/>
<line x1="1838" y1="1587" x2="1857" y2="1587" stroke-width="4.4"/>
<line x1="1871.28" y1="1587" x2="1890.28" y2="1587" stroke-width="4.4"/>
<line x1="1904.55" y1="1587" x2="1923.55" y2="1587" stroke-width="4.4"/>
<line x1="1937.83" y1="1587" x2="1956.83" y2="1587" stroke-width="4.4"/>
<line x1="1971.1" y1="1587" x2="1990.1" y2="1587" stroke-width="4.4"/>
<line x1="2004.38" y1="1587" x2="2023.38" y2="1587" stroke-width="4.4"/>
<line x1="2037.65" y1="1587" x2="2056.65" y2="1587" stroke-width="4.4"/>
<line x1="2070.93" y1="1587" x2="2089.93" y2="1587" stroke-width="4.4"/>
<line x1="2104.2" y1="1587" x2="2123.2" y2="1587" stroke-width="4.4"/>
<line x1="2137.48" y1="1587" x2="2156.48" y2="1587" stroke-width="4.4"/>
<line x1="2170.75" y1="1587" x2="2189.75" y2="1587" stroke-width="4.4"/>
<line x1="2204.03" y1="1587" x2="2223.03" y2="1587" stroke-width="4.4"/>
<line x1="2247.8" y1="1414.42" x2="2247.8" y2="1433.42" stroke-width="4.4"/>
<line x1="2247.8" y1="1446.83" x2="2247.8" y2="1465.83" stroke-width="4.4"/>
<line x1="2247.8" y1="1479.25" x2="2247.8" y2="1498.25" stroke-width="4.4"/>
<line x1="2247.8" y1="1511.67" x2="2247.8" y2="1530.67" stroke-width="4.4"/>
<line x1="2247.8" y1="1544.08" x2="2247.8" y2="1563.08" stroke-width="4.4"/>
<line x1="1713.4" y1="1414.42" x2="1713.4" y2="1433.42" stroke-width="4.4"/>
<line x1="1713.4" y1="1446.83" x2="1713.4" y2="1465.83" stroke-width="4.4"/>
<line x1="1713.4" y1="1479.25" x2="1713.4" y2="1498.25" stroke-width="4.4"/>
<line x1="1713.4" y1="1511.67" x2="1713.4" y2="1530.67" stroke-width="4.4"/>
<line x1="1713.4" y1="1544.08" x2="1713.4" y2="1563.08" stroke-width="4.4"/>
<polyline points="1723.9,1390.5 1713.4,1390.5 1713.4,1401" stroke-width="4.4" fill="none" stroke-linejoin="miter"/>
<polyline points="2237.3,1390.5 2247.8,1390.5 2247.8,1401" stroke-width="4.4" fill="none" stroke-linejoin="miter"/>
<polyline points="2237.3,1587 2247.8,1587 2247.8,1576.5" stroke-width="4.4" fill="none" stroke-linejoin="miter"/>
<polyline points="1723.9,1587 1713.4,1587 1713.4,1576.5" stroke-width="4.4" fill="none" stroke-linejoin="miter"/>
<polyline points="1921,1403 1930,1394 1939,1403" stroke-width="3" fill="none"/>
<line x1="1930" y1="1394" x2="1930" y2="1475" stroke-width="3"/>
<circle cx="1930" cy="1462" r="5.2" fill="#000" stroke="none"/>
<line x1="1930" y1="1462" x2="1952.5" y2="1462" stroke-width="3"/>
<polygon points="1969.5,1462 1951.5,1453 1951.5,1471" fill="#000" stroke="none"/>
<polyline points="1930,1475 1941.2,1480.3 1918.8,1490.3 1941.2,1500.3 1918.8,1510.3 1941.2,1520.3 1918.8,1530.3 1930,1536.5 1930,1552" stroke-width="3.2" fill="none"/>
<circle cx="1930" cy="1552" r="5" fill="#000" stroke="none"/>
<line x1="1908.7" y1="1551.5" x2="1951.3" y2="1551.5" stroke-width="2.6"/>
<polyline points="2082.8,1403 2091.8,1394 2100.8,1403" stroke-width="3" fill="none"/>
<line x1="2091.8" y1="1394" x2="2091.8" y2="1475" stroke-width="3"/>
<circle cx="2091.8" cy="1462" r="5.2" fill="#000" stroke="none"/>
<line x1="2091.8" y1="1462" x2="2113.5" y2="1462" stroke-width="3"/>
<polygon points="2130.5,1462 2112.5,1453 2112.5,1471" fill="#000" stroke="none"/>
<polyline points="2091.8,1475 2103,1480.3 2080.6,1490.3 2103,1500.3 2080.6,1510.3 2103,1520.3 2080.6,1530.3 2091.8,1536.5 2091.8,1552" stroke-width="3.2" fill="none"/>
<circle cx="2091.8" cy="1552" r="5" fill="#000" stroke="none"/>
<line x1="2070.5" y1="1551.5" x2="2113.1" y2="1551.5" stroke-width="2.6"/>
<rect x="1740.2" y="1422.5" width="142.6" height="114.7" stroke-width="4.4" fill="none"/>
<line x1="1740.2" y1="1451" x2="1882.8" y2="1451" stroke-width="3.4"/>
<text x="1811" y="1445.5" font-size="22.4" stroke-width="0.6" text-anchor="middle">CONN ID</text>
<text x="1748" y="1478" font-size="22.4" stroke-width="0.6">C1=BRN</text>
<text x="1748" y="1504" font-size="22.4" stroke-width="0.6">C2=LT BLU</text>
<text x="1748" y="1530" font-size="22.4" stroke-width="0.6">C3=PPL</text>
<text x="1977" y="1468.5" font-size="22.4" stroke-width="0.6">Courtesy</text>
<text x="1977" y="1495.6" font-size="22.4" stroke-width="0.6">Lamp</text>
<text x="1977" y="1522.7" font-size="22.4" stroke-width="0.6">Switch</text>
<text x="1977" y="1549.8" font-size="22.4" stroke-width="0.6">Signal</text>
<text x="2139.5" y="1441" font-size="22.4" stroke-width="0.6">Interior</text>
<text x="2139.5" y="1468.2" font-size="22.4" stroke-width="0.6">Lamp</text>
<text x="2139.5" y="1495.4" font-size="22.4" stroke-width="0.6">Defeat</text>
<text x="2139.5" y="1522.6" font-size="22.4" stroke-width="0.6">Switch</text>
<text x="2139.5" y="1549.8" font-size="22.4" stroke-width="0.6">Signal</text>
<text x="2259.6" y="1413.5" font-size="31" stroke-width="0.8">Body</text>
<text x="2259.6" y="1447.9" font-size="31" stroke-width="0.8">Control</text>
<text x="2259.6" y="1482.3" font-size="31" stroke-width="0.8">Module</text>
<text x="2259.6" y="1516.7" font-size="31" stroke-width="0.8">(BCM)</text>
</svg>
</body></html>
